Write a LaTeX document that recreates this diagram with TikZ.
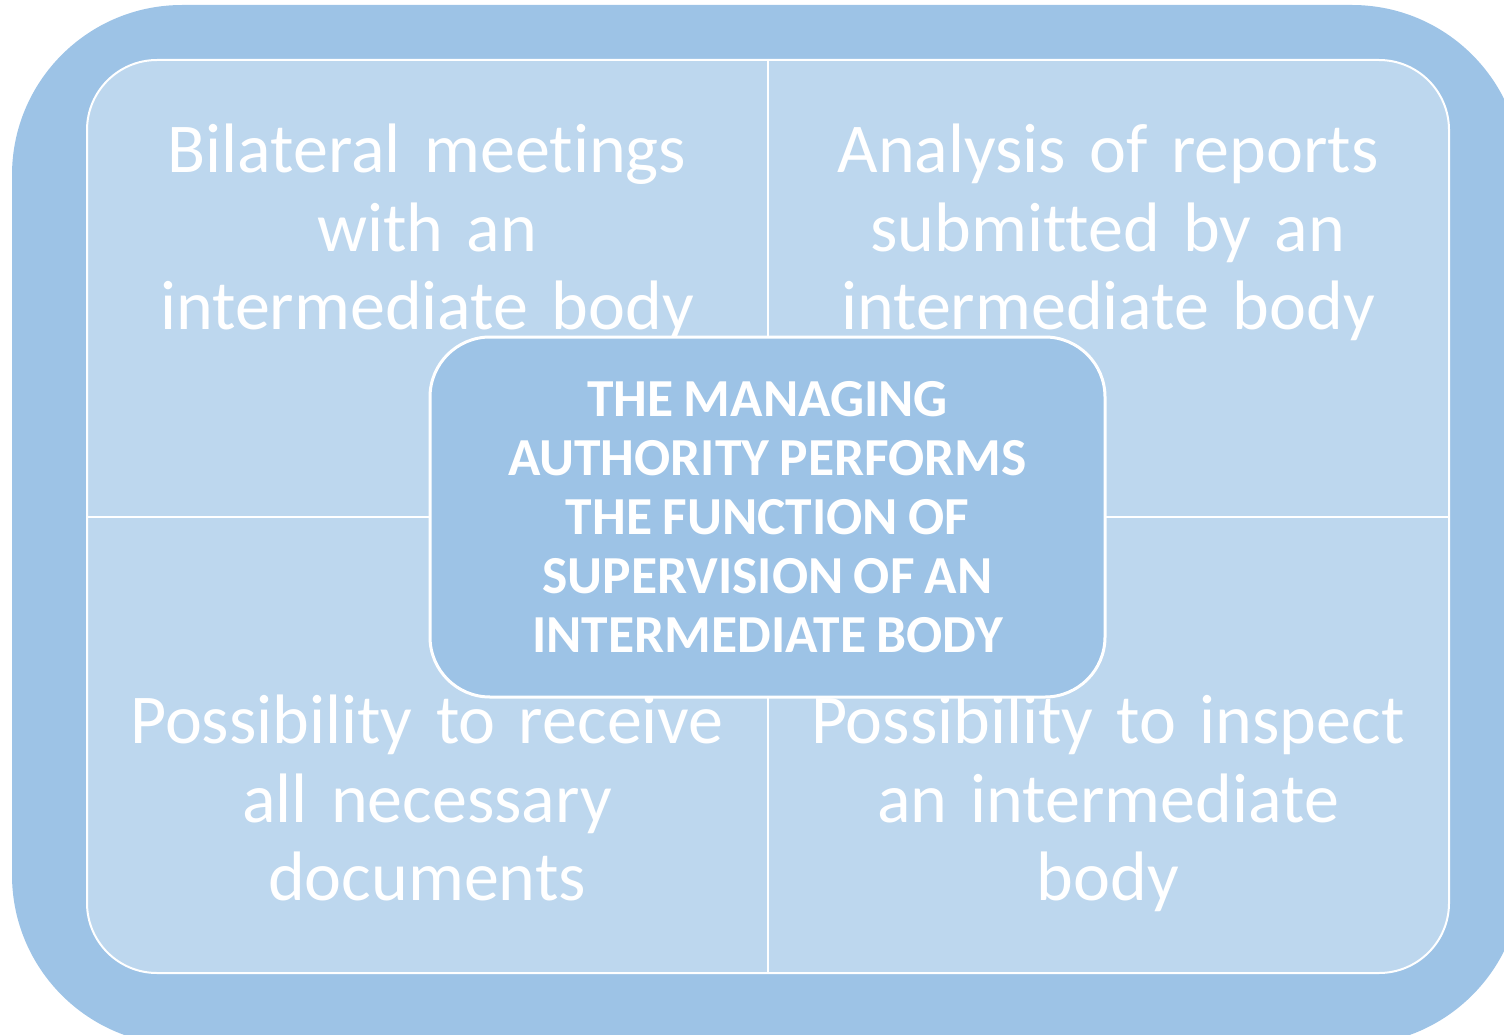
\documentclass[tikz,border=0pt]{standalone}
\usepackage{fontspec}
\setmainfont{Carlito}[Ligatures={NoCommon,NoRequired,NoContextual},WordSpace=0.85]
\usetikzlibrary{positioning}
\definecolor{outerblue}{HTML}{9DC3E6}
\definecolor{innerblue}{HTML}{BDD7EE}

\begin{document}
\begin{tikzpicture}[x=1pt,y=-1pt,
  quad node/.style={text=white,align=center,text width=660pt,inner sep=0pt,
    font=\fontsize{70}{78.5}\selectfont},
  main node/.style={rectangle,rounded corners=60pt,fill=outerblue,draw=white,
    line width=3pt,text=white,align=center,minimum width=675pt,minimum height=360pt,
    font=\fontsize{53.5}{59}\selectfont\bfseries}]

  \useasboundingbox (0,0) rectangle (1504,1035);
  \fill[outerblue,rounded corners=170pt] (12,5) rectangle (1522,1045);
  \node[draw=white,fill=innerblue,line width=2pt,rounded corners=70pt,inner sep=0pt,
    minimum width=1362pt,minimum height=913pt] (frame) at (768,516.5) {};
  \draw[white,line width=2pt] (frame.north) -- (frame.south)
    (frame.west) -- (frame.east);

  \node[quad node,anchor=north] (1) at (427,124) {Bilateral meetings\\with an\\intermediate body};
  \node[quad node,anchor=north] (2) at (1108,124) {Analysis of reports\\submitted by an\\intermediate body};
  \node[quad node,anchor=north] (3) at (427,695) {Possibility to receive\\all necessary\\documents};
  \node[quad node,anchor=north] (4) at (1108,695) {Possibility to inspect\\an intermediate\\body};

  \node[main node] (0) at (767.5,517) {THE MANAGING\\AUTHORITY PERFORMS\\THE FUNCTION OF\\SUPERVISION OF AN\\INTERMEDIATE BODY};

\end{tikzpicture}
\end{document}
